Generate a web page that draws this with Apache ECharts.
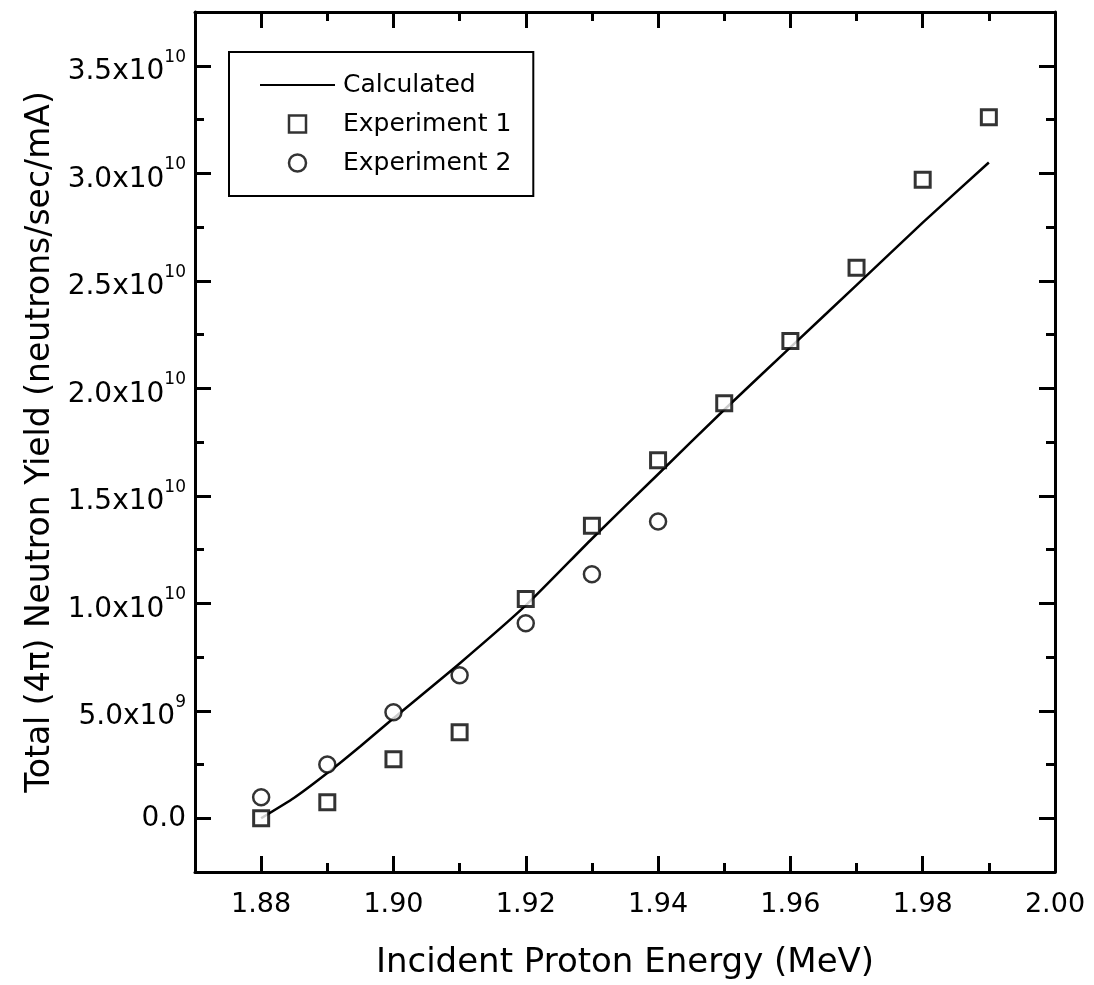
<!DOCTYPE html>
<html>
<head>
<meta charset="utf-8">
<script src="https://cdn.jsdelivr.net/npm/echarts@6/dist/echarts.min.js"></script>
<style>
  html, body { margin: 0; padding: 0; background: #fff; }
  #chart { width: 1094px; height: 985px; }
</style>
</head>
<body>
<div id="chart"></div>
<script>
// Incident proton energy (MeV) and total 4π neutron yield (neutrons/sec/mA)
const calcEnergy = [1.88, 1.885, 1.89, 1.895, 1.90, 1.91, 1.92, 1.93, 1.94, 1.95, 1.96, 1.97, 1.98, 1.99];
const calcYield  = [0.0, 0.095e10, 0.21e10, 0.335e10, 0.465e10, 0.72e10, 0.99e10, 1.30e10, 1.60e10, 1.90e10, 2.19e10, 2.48e10, 2.77e10, 3.05e10];

const exp1Energy = [1.88, 1.89, 1.90, 1.91, 1.92, 1.93, 1.94, 1.95, 1.96, 1.97, 1.98, 1.99];
const exp1Yield  = [0.0, 0.075e10, 0.275e10, 0.40e10, 1.02e10, 1.36e10, 1.665e10, 1.93e10, 2.22e10, 2.56e10, 2.97e10, 3.26e10];

const exp2Energy = [1.88, 1.89, 1.90, 1.91, 1.92, 1.93, 1.94];
const exp2Yield  = [0.098e10, 0.25e10, 0.493e10, 0.665e10, 0.907e10, 1.135e10, 1.38e10];

const energyMajorTicks = [1.88, 1.90, 1.92, 1.94, 1.96, 1.98, 2.00];
const energyMinorTicks = [1.89, 1.91, 1.93, 1.95, 1.97, 1.99];
const yieldMajorTicks = [0, 0.5e10, 1.0e10, 1.5e10, 2.0e10, 2.5e10, 3.0e10, 3.5e10];
const yieldMinorTicks = [0.25e10, 0.75e10, 1.25e10, 1.75e10, 2.25e10, 2.75e10, 3.25e10];

const seriesNames = ['Calculated', 'Experiment 1', 'Experiment 2'];
const xTitle = 'Incident Proton Energy (MeV)';
const yTitle = 'Total (4\u03C0) Neutron Yield (neutrons/sec/mA)';

const X_MIN = 1.87, X_MAX = 2.00;
const Y_MIN = -0.25e10, Y_MAX = 3.75e10;

const FONT = 'DejaVu Sans';
const INK = '#000';

const pairs = (xs, ys) => xs.map((x, i) => [x, ys[i]]);

// one side of the frame: major ticks with the axis line, or minor ticks only
function frameAxis(kind, position, ticks, major, extra) {
  const isX = kind === 'x';
  return Object.assign({
    type: 'value',
    position: position,
    min: isX ? X_MIN : Y_MIN,
    max: isX ? X_MAX : Y_MAX,
    axisLine: { show: major, onZero: false, lineStyle: { color: INK, width: 3 } },
    axisTick: {
      show: true, inside: true, customValues: ticks,
      length: major ? 16 : 9,
      lineStyle: { color: INK, width: 3 }
    },
    axisLabel: { show: false },
    splitLine: { show: false }
  }, extra || {});
}

// "3.5x10^10" style labels with a raised exponent
function yLabel(v) {
  if (v === 0) return '{z|0.0}';
  const e = Math.floor(Math.log10(v) + 1e-9);
  const m = (v / Math.pow(10, e)).toFixed(1);
  return '{b|' + m + 'x10}{s|' + e + '}';
}

const hollowIcon = { color: '#fff', borderColor: INK, borderWidth: 2.5 };

const option = {
  backgroundColor: '#fff',
  animation: false,
  grid: { left: 195, right: 39, top: 12, bottom: 113, containLabel: false },
  legend: {
    orient: 'vertical',
    left: 229, top: 52,
    padding: [20, 22, 20, 31],
    borderColor: INK, borderWidth: 2,
    itemWidth: 75, itemHeight: 17, itemGap: 13,
    textStyle: { fontFamily: FONT, fontSize: 25, color: INK, lineHeight: 26, padding: [0, 0, 0, 3] },
    data: [
      { name: seriesNames[0], icon: 'path://M0,0H75V2H0Z' },
      { name: seriesNames[1], icon: 'path://M0,0H10V10H0Z', itemStyle: hollowIcon },
      { name: seriesNames[2], icon: 'circle', itemStyle: hollowIcon }
    ]
  },
  xAxis: [
    frameAxis('x', 'bottom', energyMajorTicks, true, {
      name: xTitle,
      nameLocation: 'middle',
      nameGap: 74,
      nameTextStyle: { fontFamily: FONT, fontSize: 34, color: INK },
      axisLabel: {
        show: true, customValues: energyMajorTicks, margin: 19,
        fontFamily: FONT, fontSize: 27, color: INK,
        formatter: v => v.toFixed(2)
      }
    }),
    frameAxis('x', 'top', energyMajorTicks, true),
    frameAxis('x', 'bottom', energyMinorTicks, false),
    frameAxis('x', 'top', energyMinorTicks, false)
  ],
  yAxis: [
    frameAxis('y', 'left', yieldMajorTicks, true, {
      name: yTitle,
      nameLocation: 'middle',
      nameRotate: 90,
      nameGap: 136,
      nameTextStyle: { fontFamily: FONT, fontSize: 33, color: INK },
      axisLabel: {
        show: true, customValues: yieldMajorTicks, margin: 9,
        formatter: yLabel,
        rich: {
          b: { fontFamily: FONT, fontSize: 28, lineHeight: 22, padding: [12, 0, 0, 0], color: INK },
          s: { fontFamily: FONT, fontSize: 17, lineHeight: 17, padding: [0, 0, 17, 0], color: INK },
          z: { fontFamily: FONT, fontSize: 28, color: INK }
        }
      }
    }),
    frameAxis('y', 'right', yieldMajorTicks, true),
    frameAxis('y', 'left', yieldMinorTicks, false),
    frameAxis('y', 'right', yieldMinorTicks, false)
  ],
  series: [
    {
      name: seriesNames[0],
      type: 'line',
      data: pairs(calcEnergy, calcYield),
      smooth: 0.2,
      showSymbol: false,
      symbol: 'none',
      lineStyle: { color: INK, width: 2.5 },
      itemStyle: { color: INK },
      z: 2
    },
    {
      name: seriesNames[1],
      type: 'scatter',
      data: pairs(exp1Energy, exp1Yield),
      symbol: 'rect',
      symbolSize: 15,
      itemStyle: { color: '#fff', borderColor: INK, borderWidth: 3 },
      z: 3
    },
    {
      name: seriesNames[2],
      type: 'scatter',
      data: pairs(exp2Energy, exp2Yield),
      symbol: 'circle',
      symbolSize: 16,
      itemStyle: { color: '#fff', borderColor: INK, borderWidth: 2.5 },
      z: 3
    }
  ]
};

const chart = echarts.init(document.getElementById('chart'), null, { renderer: 'canvas' });
chart.setOption(option);
</script>
</body>
</html>
